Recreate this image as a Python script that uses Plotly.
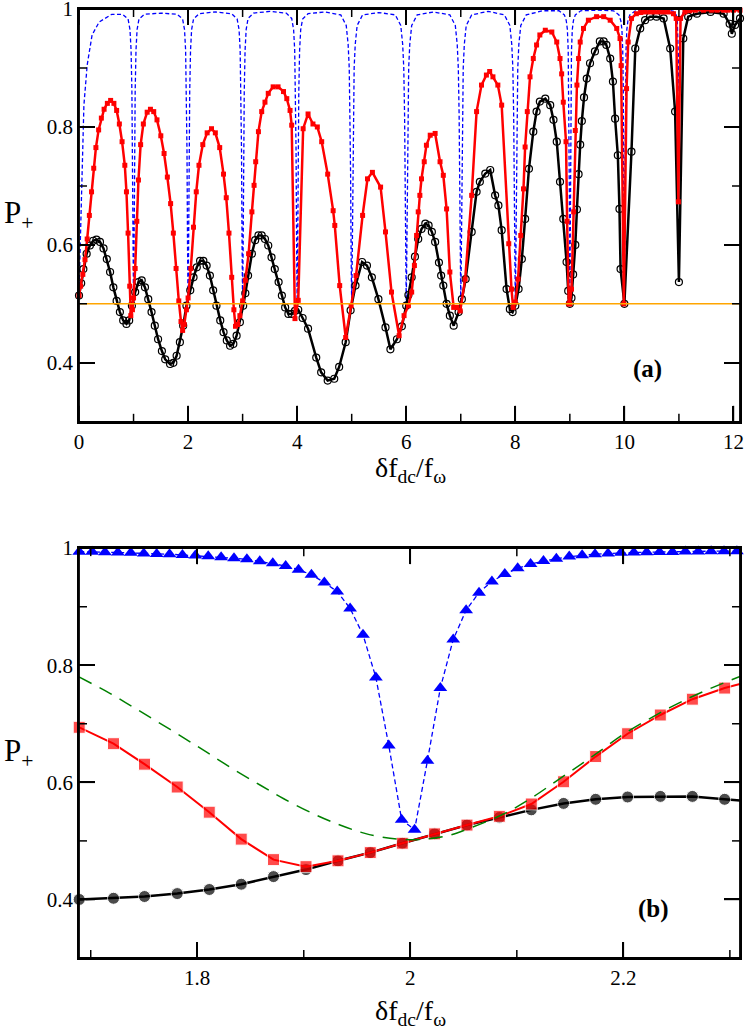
import plotly.graph_objects as go
from plotly.subplots import make_subplots

# ---------------- panel (a) data ----------------
top_black_x = [0.0, 0.04, 0.08, 0.14, 0.2, 0.26, 0.32, 0.385, 0.45, 0.51,
               0.57, 0.63, 0.69, 0.75, 0.81, 0.87, 0.92, 0.97, 1.03, 1.09,
               1.15, 1.21, 1.27, 1.33, 1.39, 1.45, 1.52, 1.58, 1.67, 1.73,
               1.79, 1.85, 1.91, 1.97, 2.04, 2.1, 2.16, 2.22, 2.28, 2.34,
               2.4, 2.46, 2.52, 2.59, 2.65, 2.71, 2.77, 2.83, 2.89, 2.95,
               3.01, 3.05, 3.1, 3.17, 3.23, 3.29, 3.35, 3.41, 3.47, 3.53,
               3.59, 3.66, 3.72, 3.78, 3.84, 3.9, 3.96, 4.02, 4.1, 4.2,
               4.35, 4.44, 4.56, 4.68, 4.77, 4.89, 4.98, 5.07, 5.19, 5.28,
               5.37, 5.49, 5.62, 5.71, 5.83, 5.92, 6.0, 6.04, 6.1, 6.16,
               6.22, 6.28, 6.35, 6.41, 6.47, 6.53, 6.6, 6.64, 6.68, 6.74,
               6.8, 6.87, 6.96, 7.02, 7.09, 7.2, 7.29, 7.35, 7.45, 7.54,
               7.63, 7.69, 7.75, 7.84, 7.9, 7.95, 8.0, 8.06, 8.12, 8.18,
               8.25, 8.33, 8.39, 8.45, 8.55, 8.64, 8.7, 8.76, 8.82, 8.88,
               8.94, 8.97, 9.0, 9.03, 9.06, 9.1, 9.13, 9.16, 9.19, 9.22,
               9.26, 9.31, 9.37, 9.46, 9.55, 9.62, 9.67, 9.74, 9.79, 9.83,
               9.88, 9.91, 9.93, 10.0, 10.13, 10.2, 10.29, 10.38, 10.47, 10.59,
               10.72, 10.84, 10.93, 11.0, 11.08, 11.17, 11.33, 11.58, 11.82, 11.93,
               11.97, 12.03, 12.12]
top_black_y = [0.514, 0.535, 0.559, 0.585, 0.599, 0.607, 0.609, 0.605, 0.594, 0.576,
               0.554, 0.528, 0.505, 0.486, 0.472, 0.466, 0.472, 0.497, 0.52, 0.537,
               0.54, 0.528, 0.508, 0.486, 0.463, 0.44, 0.42, 0.406, 0.398, 0.4,
               0.412, 0.435, 0.463, 0.497, 0.523, 0.545, 0.562, 0.573, 0.573, 0.565,
               0.548, 0.523, 0.497, 0.472, 0.452, 0.438, 0.429, 0.432, 0.446, 0.469,
               0.497, 0.518, 0.548, 0.585, 0.608, 0.616, 0.616, 0.61, 0.599, 0.579,
               0.559, 0.537, 0.514, 0.494, 0.483, 0.483, 0.488, 0.49, 0.476, 0.458,
               0.409, 0.384, 0.37, 0.373, 0.393, 0.435, 0.489, 0.531, 0.571, 0.565,
               0.545, 0.508, 0.46, 0.423, 0.44, 0.462, 0.497, 0.515, 0.545, 0.58,
               0.61, 0.627, 0.636, 0.633, 0.622, 0.605, 0.57, 0.548, 0.531, 0.5,
               0.48, 0.463, 0.486, 0.508, 0.542, 0.622, 0.69, 0.707, 0.721, 0.727,
               0.684, 0.667, 0.625, 0.525, 0.491, 0.486, 0.497, 0.525, 0.576, 0.644,
               0.729, 0.792, 0.826, 0.843, 0.848, 0.837, 0.812, 0.775, 0.707, 0.644,
               0.571, 0.522, 0.5, 0.51, 0.55, 0.6, 0.66, 0.72, 0.77, 0.81,
               0.85, 0.882, 0.908, 0.928, 0.945, 0.945, 0.939, 0.916, 0.877, 0.814,
               0.752, 0.661, 0.559, 0.5, 0.758, 0.933, 0.967, 0.981, 0.987, 0.987,
               0.984, 0.933, 0.826, 0.537, 0.95, 0.987, 0.992, 0.995, 0.992, 0.975,
               0.958, 0.973, 0.984]

top_red_x = [0.0, 0.03, 0.07, 0.11, 0.15, 0.19, 0.23, 0.27, 0.31, 0.36,
             0.41, 0.46, 0.52, 0.58, 0.64, 0.69, 0.74, 0.79, 0.84, 0.87,
             0.9, 0.93, 0.95, 0.98, 1.0, 1.03, 1.06, 1.09, 1.13, 1.18,
             1.25, 1.31, 1.37, 1.43, 1.5, 1.56, 1.62, 1.68, 1.73, 1.78,
             1.83, 1.87, 1.9, 1.93, 1.97, 2.0, 2.05, 2.1, 2.15, 2.2,
             2.27, 2.35, 2.43, 2.5, 2.58, 2.65, 2.7, 2.75, 2.8, 2.84,
             2.87, 2.91, 2.95, 3.0, 3.05, 3.11, 3.17, 3.21, 3.24, 3.29,
             3.35, 3.41, 3.47, 3.56, 3.65, 3.75, 3.81, 3.87, 3.9, 3.96,
             4.02, 4.11, 4.2, 4.29, 4.37, 4.45, 4.56, 4.66, 4.69, 4.78,
             4.89, 4.99, 5.08, 5.2, 5.29, 5.38, 5.53, 5.62, 5.73, 5.87,
             5.96, 6.04, 6.1, 6.15, 6.19, 6.22, 6.25, 6.28, 6.33, 6.37,
             6.44, 6.53, 6.62, 6.68, 6.74, 6.8, 6.87, 6.93, 6.99, 7.08,
             7.2, 7.29, 7.38, 7.47, 7.53, 7.59, 7.68, 7.75, 7.88, 7.93,
             7.96, 8.0, 8.05, 8.1, 8.15, 8.18, 8.22, 8.27, 8.33, 8.39,
             8.45, 8.55, 8.67, 8.76, 8.82, 8.85, 8.88, 8.93, 8.95, 8.98,
             9.0, 9.03, 9.07, 9.1, 9.13, 9.16, 9.19, 9.25, 9.34, 9.49,
             9.62, 9.74, 9.86, 9.92, 9.94, 9.99, 10.04, 10.07, 10.13, 10.22,
             10.3, 10.38, 10.47, 10.55, 10.64, 10.72, 10.8, 10.9, 10.95, 10.99,
             11.03, 11.11, 11.2, 11.3, 11.45, 11.6, 11.7, 11.82, 11.9, 12.0,
             12.12]
top_red_y = [0.514, 0.53, 0.55, 0.575, 0.61, 0.65, 0.69, 0.73, 0.765, 0.795,
             0.815, 0.83, 0.84, 0.845, 0.84, 0.828, 0.805, 0.775, 0.735, 0.69,
             0.62, 0.53, 0.48, 0.49, 0.51, 0.56, 0.64, 0.71, 0.77, 0.805,
             0.825, 0.83, 0.826, 0.812, 0.785, 0.755, 0.715, 0.67, 0.62, 0.56,
             0.505, 0.47, 0.455, 0.465, 0.49, 0.51, 0.56, 0.63, 0.69, 0.735,
             0.77, 0.79, 0.797, 0.79, 0.765, 0.72, 0.68, 0.62, 0.545, 0.49,
             0.462, 0.465, 0.48, 0.505, 0.54, 0.585, 0.656, 0.701, 0.741, 0.792,
             0.826, 0.842, 0.857, 0.868, 0.868, 0.86, 0.848, 0.828, 0.803, 0.475,
             0.506, 0.797, 0.822, 0.805, 0.8, 0.775, 0.72, 0.658, 0.633, 0.531,
             0.443, 0.497, 0.548, 0.65, 0.712, 0.723, 0.698, 0.622, 0.52, 0.446,
             0.48, 0.497, 0.52, 0.565, 0.616, 0.656, 0.684, 0.712, 0.741, 0.769,
             0.786, 0.789, 0.741, 0.718, 0.661, 0.554, 0.494, 0.494, 0.488, 0.542,
             0.684, 0.826, 0.871, 0.888, 0.894, 0.885, 0.871, 0.837, 0.602, 0.525,
             0.494, 0.503, 0.542, 0.616, 0.695, 0.766, 0.826, 0.885, 0.916, 0.939,
             0.956, 0.964, 0.961, 0.944, 0.916, 0.89, 0.842, 0.775, 0.64, 0.5,
             0.5, 0.525, 0.656, 0.794, 0.871, 0.916, 0.944, 0.967, 0.981, 0.987,
             0.987, 0.981, 0.967, 0.95, 0.904, 0.5, 0.865, 0.944, 0.984, 0.992,
             0.994, 0.995, 0.995, 0.995, 0.995, 0.995, 0.995, 0.992, 0.984, 0.673,
             0.984, 0.995, 0.997, 0.998, 0.998, 0.998, 0.998, 0.998, 0.998, 0.998,
             0.998]

top_blue_x = [0.0, 0.03, 0.06, 0.09, 0.15, 0.24, 0.37, 0.6, 0.8, 0.9, 0.935, 0.955, 0.97, 0.98, 0.99, 1.0,
              1.01, 1.02, 1.03, 1.045, 1.065, 1.1, 1.2, 1.5, 1.8, 1.9, 1.935, 1.955, 1.97, 1.98, 1.99, 2.0,
              2.01, 2.02, 2.03, 2.045, 2.065, 2.1, 2.2, 2.5, 2.8, 2.9, 2.935, 2.955, 2.97, 2.98, 2.99, 3.0,
              3.01, 3.02, 3.03, 3.045, 3.065, 3.1, 3.2, 3.5, 3.8, 3.9, 3.935, 3.955, 3.97, 3.98, 3.99, 4.0,
              4.01, 4.02, 4.03, 4.045, 4.065, 4.1, 4.2, 4.5, 4.8, 4.9, 4.935, 4.955, 4.97, 4.98, 4.99, 5.0,
              5.01, 5.02, 5.03, 5.045, 5.065, 5.1, 5.2, 5.5, 5.8, 5.9, 5.935, 5.955, 5.97, 5.98, 5.99, 6.0,
              6.01, 6.02, 6.03, 6.045, 6.065, 6.1, 6.2, 6.5, 6.8, 6.9, 6.935, 6.955, 6.97, 6.98, 6.99, 7.0,
              7.01, 7.02, 7.03, 7.045, 7.065, 7.1, 7.2, 7.5, 7.8, 7.9, 7.935, 7.955, 7.97, 7.98, 7.99, 8.0,
              8.01, 8.02, 8.03, 8.045, 8.065, 8.1, 8.2, 8.5, 8.8, 8.9, 8.935, 8.955, 8.97, 8.98, 8.99, 9.0,
              9.01, 9.02, 9.03, 9.045, 9.065, 9.1, 9.2, 9.5, 9.8, 9.9, 9.935, 9.955, 9.97, 9.98, 9.99, 10.0,
              10.01, 10.02, 10.03, 10.045, 10.065, 10.1, 10.2, 10.5, 10.8, 10.9, 10.95, 10.97, 10.98, 10.99, 11.0,
              11.01, 11.02, 11.03, 11.05, 11.1, 11.5, 12.0, 12.12]
top_blue_y = [0.52, 0.62, 0.75, 0.837, 0.905, 0.956, 0.978, 0.991, 0.991, 0.983, 0.965, 0.93, 0.86, 0.76, 0.6, 0.5,
              0.6, 0.76, 0.86, 0.93, 0.965, 0.983, 0.991, 0.993, 0.991, 0.983, 0.965, 0.93, 0.86, 0.76, 0.6, 0.5,
              0.6, 0.76, 0.86, 0.93, 0.965, 0.983, 0.992, 0.995, 0.992, 0.983, 0.965, 0.93, 0.86, 0.76, 0.6, 0.5,
              0.6, 0.76, 0.86, 0.93, 0.965, 0.984, 0.993, 0.996, 0.993, 0.984, 0.965, 0.93, 0.86, 0.76, 0.6, 0.5,
              0.6, 0.76, 0.86, 0.93, 0.965, 0.983, 0.992, 0.995, 0.99, 0.972, 0.94, 0.9, 0.82, 0.72, 0.58, 0.5,
              0.58, 0.72, 0.82, 0.9, 0.94, 0.972, 0.99, 0.994, 0.99, 0.972, 0.94, 0.9, 0.82, 0.72, 0.58, 0.5,
              0.58, 0.72, 0.82, 0.9, 0.94, 0.972, 0.99, 0.995, 0.99, 0.972, 0.94, 0.9, 0.82, 0.72, 0.58, 0.5,
              0.58, 0.72, 0.82, 0.9, 0.94, 0.972, 0.99, 0.996, 0.99, 0.972, 0.94, 0.9, 0.82, 0.72, 0.58, 0.5,
              0.58, 0.72, 0.82, 0.9, 0.94, 0.972, 0.99, 0.997, 0.997, 0.99, 0.98, 0.965, 0.93, 0.86, 0.7, 0.5,
              0.7, 0.86, 0.93, 0.965, 0.98, 0.99, 0.997, 0.998, 0.997, 0.99, 0.98, 0.965, 0.93, 0.86, 0.7, 0.5,
              0.7, 0.86, 0.93, 0.965, 0.98, 0.99, 0.997, 0.999, 0.998, 0.996, 0.99, 0.98, 0.96, 0.92, 0.86,
              0.92, 0.96, 0.98, 0.99, 0.997, 0.999, 0.999, 0.999]

# ---------------- panel (b) data ----------------
bot_x = [1.6892, 1.7214, 1.7505, 1.7812, 1.8113, 1.8413, 1.8716, 1.9021, 1.9321, 1.9624,
         1.9925, 2.0228, 2.0532, 2.0836, 2.1136, 2.1439, 2.1740, 2.2040, 2.2347, 2.2648,
         2.2951, 2.3095]
bot_black_y = [0.400, 0.402, 0.405, 0.410, 0.417, 0.426, 0.439, 0.451, 0.466, 0.480,
               0.496, 0.512, 0.527, 0.540, 0.553, 0.564, 0.571, 0.575, 0.576, 0.576,
               0.571, 0.569]
bot_red_y = [0.694, 0.666, 0.631, 0.592, 0.549, 0.503, 0.468, 0.456, 0.466, 0.480,
             0.496, 0.512, 0.527, 0.542, 0.563, 0.601, 0.644, 0.683, 0.715, 0.742,
             0.761, 0.768]

bot_blue_x = [1.6892, 1.7013, 1.7134, 1.7255, 1.7376, 1.7498, 1.7619, 1.7740, 1.7861, 1.7982,
              1.8103, 1.8224, 1.8345, 1.8466, 1.8587, 1.8709, 1.8830, 1.8951, 1.9072, 1.9193,
              1.9314, 1.9435, 1.9556, 1.9677, 1.9798, 1.9919, 2.0040, 2.0161, 2.0282, 2.0403,
              2.0524, 2.0645, 2.0766, 2.0887, 2.1008, 2.1129, 2.1250, 2.1371, 2.1492, 2.1613,
              2.1734, 2.1856, 2.1977, 2.2098, 2.2219, 2.2340, 2.2461, 2.2582, 2.2703, 2.2824,
              2.2945, 2.3066]
bot_blue_y = [0.994, 0.994, 0.993, 0.9925, 0.992, 0.991, 0.990, 0.9896, 0.9884, 0.9873,
              0.9861, 0.9844, 0.9827, 0.981, 0.9775, 0.974, 0.9695, 0.9632, 0.9545, 0.9413,
              0.9258, 0.897, 0.852, 0.779, 0.663, 0.536, 0.519, 0.637, 0.761, 0.844,
              0.894, 0.924, 0.943, 0.956, 0.9655, 0.973, 0.978, 0.982, 0.9855, 0.988,
              0.9897, 0.9907, 0.9919, 0.9925, 0.993, 0.9936, 0.9936, 0.9942, 0.9942, 0.9948,
              0.9948, 0.9948]

bot_green_x = [1.689, 1.718, 1.7403, 1.7622, 1.7873, 1.8092, 1.8342, 1.8593, 1.8812, 1.9094,
               1.9313, 1.9532, 1.9688, 2.0, 2.0331, 2.0563, 2.0876, 2.1127, 2.1377, 2.1628,
               2.1815, 2.2, 2.244, 2.275, 2.3095]
bot_green_y = [0.780, 0.752, 0.728, 0.704, 0.676, 0.651, 0.622, 0.595, 0.572, 0.546,
               0.529, 0.515, 0.508, 0.502, 0.508, 0.522, 0.546, 0.572, 0.603, 0.634,
               0.658, 0.682, 0.728, 0.755, 0.781]

half_level = 0.5

# tick values
top_x_major = [0, 2, 4, 6, 8, 10, 12]
top_x_minor = [1, 3, 5, 7, 9, 11]
bot_x_major = [1.8, 2.0, 2.2]
bot_x_labels = ["1.8", "2", "2.2"]
bot_x_minor = [1.7, 1.9, 2.1, 2.3]
y_major = [0.4, 0.6, 0.8, 1.0]
y_labels = ["0.4", "0.6", "0.8", "1"]
y_minor = [0.5, 0.7, 0.9]

serif = "Liberation Serif"
MAJOR_LEN = 16
MINOR_LEN = 8

fig = make_subplots(rows=2, cols=1)

# panel (a)
fig.add_trace(go.Scatter(x=top_blue_x, y=top_blue_y, mode="lines",
                         line=dict(color="#0000ff", width=1.3, dash="4px,2.5px")), row=1, col=1)
fig.add_trace(go.Scatter(x=top_black_x, y=top_black_y, mode="lines+markers",
                         line=dict(color="black", width=2.5),
                         marker=dict(symbol="circle-open", size=7, color="black", line=dict(width=1.2)),
                         cliponaxis=False), row=1, col=1)
fig.add_trace(go.Scatter(x=top_red_x, y=top_red_y, mode="lines+markers",
                         line=dict(color="#ff0000", width=2.5),
                         marker=dict(symbol="square", size=5, color="#ff0000"),
                         cliponaxis=False), row=1, col=1)
fig.add_hline(y=half_level, row=1, col=1, layer="above",
              line=dict(color="#ffa500", width=1.5))

# panel (b)
fig.add_hline(y=half_level, row=2, col=1, layer="below",
              line=dict(color="#ffa500", width=1.5))
marker_sizes = [12] * (len(bot_x) - 1) + [0]
fig.add_trace(go.Scatter(x=bot_x, y=bot_black_y, mode="lines+markers",
                         line=dict(color="black", width=2.5),
                         marker=dict(symbol="circle", size=marker_sizes, color="black"),
                         cliponaxis=False), row=2, col=1)
fig.add_trace(go.Scatter(x=bot_x, y=bot_red_y, mode="lines+markers",
                         line=dict(color="#ff0000", width=2),
                         marker=dict(symbol="square", size=marker_sizes, color="#ff0000"),
                         cliponaxis=False), row=2, col=1)
fig.add_trace(go.Scatter(x=bot_green_x, y=bot_green_y, mode="lines",
                         line=dict(color="#008000", width=1.5, dash="14px,9px", shape="spline")),
              row=2, col=1)
fig.add_trace(go.Scatter(x=bot_blue_x, y=bot_blue_y, mode="lines+markers",
                         line=dict(color="#0000ff", width=1.3, dash="5px,3px"),
                         marker=dict(symbol="triangle-up", size=12, color="#0000ff"),
                         cliponaxis=False), row=2, col=1)

axis_common = dict(showline=True, linecolor="black", linewidth=1.8, mirror="allticks",
                   ticks="inside", ticklen=MAJOR_LEN, tickwidth=1.5, tickcolor="black",
                   showgrid=False, zeroline=False, automargin=False,
                   ticklabeloverflow="allow", tickmode="array",
                   tickfont=dict(family=serif, size=21, color="black"))

fig.update_xaxes(range=[0, 12.12], tickvals=top_x_major, ticktext=[str(t) for t in top_x_major],
                 domain=[0, 1], row=1, col=1, **axis_common)
fig.update_yaxes(range=[0.3, 1.0], tickvals=y_major, ticktext=y_labels,
                 domain=[0.565, 1.0], row=1, col=1, **axis_common)
fig.update_xaxes(range=[1.689, 2.3095], tickvals=bot_x_major, ticktext=bot_x_labels,
                 domain=[0, 1], row=2, col=1, **axis_common)
fig.update_yaxes(range=[0.3, 1.0], tickvals=y_major, ticktext=y_labels,
                 domain=[0.0, 0.4319], row=2, col=1, **axis_common)

# frame and tick marks drawn as shapes so they show in every renderer
tick_line = dict(color="black", width=1.5)
shapes = []
for xa, ya, xvals_major, xvals_minor in (("x", "y", top_x_major, top_x_minor),
                                         ("x2", "y2", bot_x_major, bot_x_minor)):
    shapes.append(dict(type="rect", xref=xa + " domain", yref=ya + " domain",
                       x0=0, x1=1, y0=0, y1=1, line=dict(color="black", width=1.8),
                       fillcolor="rgba(0,0,0,0)", layer="above"))
    for vals, ln in ((xvals_major, MAJOR_LEN), (xvals_minor, MINOR_LEN)):
        for v in vals:
            for anchor, sign in ((0, 1), (1, -1)):
                shapes.append(dict(type="line", xref=xa, yref=ya + " domain",
                                   x0=v, x1=v, ysizemode="pixel", yanchor=anchor,
                                   y0=0, y1=sign * ln, line=tick_line, layer="above"))
    for vals, ln in ((y_major, MAJOR_LEN), (y_minor, MINOR_LEN)):
        for v in vals:
            for anchor, sign in ((0, 1), (1, -1)):
                shapes.append(dict(type="line", xref=xa + " domain", yref=ya,
                                   y0=v, y1=v, xsizemode="pixel", xanchor=anchor,
                                   x0=0, x1=sign * ln, line=tick_line, layer="above"))

x_title = "δf<sub>dc</sub>/f<sub>ω</sub>"
y_title = "P<sub>+</sub>"
annots = [
    dict(text=x_title, x=0.502, y=0.5352, xref="paper", yref="paper", xanchor="center", yanchor="top",
         showarrow=False, font=dict(family=serif, size=28, color="black")),
    dict(text=x_title, x=0.502, y=-0.0372, xref="paper", yref="paper", xanchor="center", yanchor="top",
         showarrow=False, font=dict(family=serif, size=28, color="black")),
    dict(text=y_title, x=-0.0908, y=0.7829, xref="paper", yref="paper", xanchor="center", yanchor="middle",
         showarrow=False, font=dict(family=serif, size=31, color="black")),
    dict(text=y_title, x=-0.0908, y=0.2158, xref="paper", yref="paper", xanchor="center", yanchor="middle",
         showarrow=False, font=dict(family=serif, size=31, color="black")),
    dict(text="<b>(a)</b>", x=10.43, y=0.39, xref="x", yref="y", showarrow=False,
         font=dict(family=serif, size=25, color="black")),
    dict(text="<b>(b)</b>", x=2.228, y=0.384, xref="x2", yref="y2", showarrow=False,
         font=dict(family=serif, size=25, color="black")),
]

fig.update_layout(template="none", width=747, height=1033, autosize=False,
                  margin=dict(l=79, r=7, t=9, b=75),
                  plot_bgcolor="white", paper_bgcolor="white",
                  showlegend=False, annotations=annots)
fig.update_layout(shapes=list(fig.layout.shapes) + shapes)

fig.write_html("out.html", config={"displayModeBar": False},
               post_script="document.body.style.margin='0px';")
